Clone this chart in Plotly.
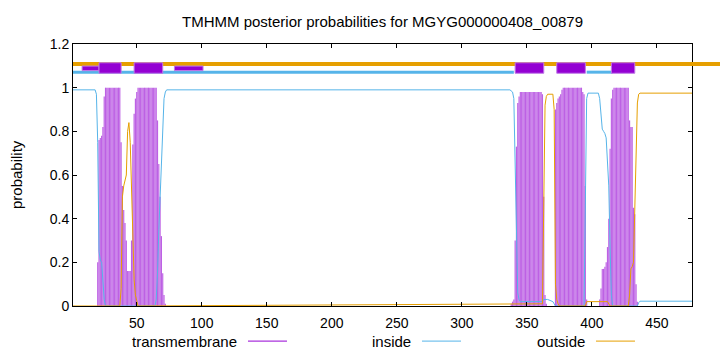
import plotly.graph_objects as go

# ---------------- data ----------------
title_text = "TMHMM posterior probabilities for MGYG000000408_00879"
seq_len = 477

# transmembrane posterior probability per residue (only non-zero stretches)
tm_seg1_start = 20
tm_seg1 = [0.2, 0.76, 0.77, 0.78, 0.82, 0.96,
           1, 1, 1, 1, 1, 1, 1, 1, 1, 1, 1, 1,
           0.75, 0.55, 0.44, 0.38, 0.3, 0.16, 0.16, 0.16, 0.3, 0.74, 0.88, 0.95, 0.98,
           1, 1, 1, 1, 1, 1, 1, 1, 1, 1, 1, 1, 1, 1, 1,
           0.85, 0.65, 0.5, 0.32, 0.15, 0.05, 0.01]
tm_seg2_start = 338
tm_seg2 = [0.01, 0.02, 0.03, 0.3, 0.73, 0.93, 0.96,
           0.98, 0.98, 0.98, 0.98, 0.98, 0.98, 0.98, 0.98, 0.98, 0.98, 0.98, 0.98, 0.98,
           0.98, 0.98, 0.98, 0.98,
           0.97, 0.5, 0.05, 0.01]
tm_seg3_start = 372
tm_seg3 = [0.9, 0.93, 0.95, 0.96, 0.97, 0.99,
           1, 1, 1, 1, 1, 1, 1, 1, 1, 1, 1, 1, 1, 1, 1,
           0.98, 0.97, 0.55, 0.03]
tm_seg4_start = 406
tm_seg4 = [0.03, 0.08, 0.17, 0.17, 0.18, 0.2, 0.27, 0.4, 0.72, 0.95, 0.99,
           1, 1, 1, 1, 1, 1, 1, 1, 1, 1, 1, 1,
           0.85, 0.82, 0.82, 0.45, 0.42, 0.1, 0.02]

# inside posterior probability (residue, value) readings
inside_res = [1, 18, 19, 20, 21, 22, 23, 24, 25, 26, 64, 65, 66, 67, 68, 69, 70, 71, 72, 73,
              337, 339, 340, 341, 342, 343, 344, 345, 362, 363, 366, 370, 371, 372,
              394, 395, 396, 397, 405, 406, 407, 408, 409, 410, 411, 412, 413, 414, 415, 416,
              435, 436, 437, 477]
inside_val = [0.99, 0.99, 0.97, 0.75, 0.25, 0.21, 0.2, 0.12, 0.03, 0.0, 0.0, 0.03, 0.15, 0.35,
              0.5, 0.68, 0.85, 0.95, 0.98, 0.99,
              0.99, 0.98, 0.95, 0.65, 0.25, 0.06, 0.03, 0.02, 0.02, 0.03, 0.03, 0.02, 0.01, 0.0,
              0.0, 0.42, 0.95, 0.975, 0.975, 0.95, 0.88, 0.81, 0.8, 0.79, 0.77, 0.68, 0.55, 0.27,
              0.05, 0.0,
              0.0, 0.015, 0.022, 0.022]

# outside posterior probability (residue, value) readings
outside_res = [1, 37, 38, 39, 40, 41, 42, 43, 44, 45, 46, 47, 48, 49, 50, 51,
               362, 363, 364, 365, 366, 370, 371, 372, 373, 374, 375,
               395, 396, 412, 413, 414,
               428, 429, 430, 431, 432, 433, 434, 435, 436, 437, 477]
outside_val = [0.0, 0.0, 0.08, 0.5, 0.55, 0.57, 0.6, 0.8, 0.84, 0.75, 0.5, 0.25, 0.12, 0.05, 0.02, 0.0,
               0.01, 0.45, 0.92, 0.96, 0.97, 0.97, 0.9, 0.1, 0.03, 0.01, 0.0,
               0.0, 0.02, 0.02, 0.01, 0.0,
               0.0, 0.05, 0.17, 0.18, 0.2, 0.45, 0.75, 0.93, 0.97, 0.975, 0.975]

# predicted topology (top band)
tm_segments = [(21, 38), (48, 70), (341, 363), (373, 395), (415, 433)]
minor_segments = [(8, 21), (79, 101)]
inside_segments = [(1, 340), (396, 416)]

x_ticks = [50, 100, 150, 200, 250, 300, 350, 400, 450]
y_ticks = [0, 0.2, 0.4, 0.6, 0.8, 1.0, 1.2]
y_tick_text = ["0", "0.2", "0.4", "0.6", "0.8", "1", "1.2"]

# ---------------- styling ----------------
C_TM = "#9400d3"
C_IN = "#56b4e9"
C_OUT = "#e69f00"
FONT = "Liberation Sans, Arial, sans-serif"

tm_x, tm_y = [], []
for start, vals in [(tm_seg1_start, tm_seg1), (tm_seg2_start, tm_seg2),
                    (tm_seg3_start, tm_seg3), (tm_seg4_start, tm_seg4)]:
    for i, v in enumerate(vals):
        tm_x.append(start + i)
        tm_y.append(v)

fig = go.Figure()
fig.add_trace(go.Bar(x=tm_x, y=tm_y, width=0.9,
                     marker=dict(color="rgba(148,0,211,0.62)", line=dict(width=0)),
                     showlegend=False, hoverinfo="x+y"))
fig.add_trace(go.Scatter(x=inside_res, y=inside_val, mode="lines",
                         line=dict(color=C_IN, width=1), showlegend=False))
fig.add_trace(go.Scatter(x=outside_res, y=outside_val, mode="lines",
                         line=dict(color=C_OUT, width=1), showlegend=False))

shapes = []
y_out_band = 1.108
y_in_band = 1.071
# outside band (runs across the whole width, past the right border)
shapes.append(dict(type="line", xref="paper", yref="y", x0=0, x1=1.06,
                   y0=y_out_band, y1=y_out_band, line=dict(color=C_OUT, width=4), layer="above"))
for a, b in inside_segments:
    shapes.append(dict(type="line", xref="x", yref="y", x0=a, x1=b,
                       y0=y_in_band, y1=y_in_band, line=dict(color=C_IN, width=3), layer="above"))
for a, b in minor_segments:
    shapes.append(dict(type="rect", xref="x", yref="y", x0=a, x1=b, y0=1.078, y1=1.099,
                       fillcolor=C_TM, line=dict(color="#c07ae6", width=1), layer="above"))
for a, b in tm_segments:
    shapes.append(dict(type="rect", xref="x", yref="y", x0=a, x1=b, y0=1.066, y1=1.114,
                       fillcolor=C_TM, line=dict(color="#c07ae6", width=1), layer="above"))

# legend keys (gnuplot style: text then line)
leg_y = -0.134
legend_items = [("transmembrane", C_TM, 0.2682, 0.2827, 0.3457),
                ("inside", C_IN, 0.5493, 0.5638, 0.6268),
                ("outside", C_OUT, 0.8304, 0.8449, 0.9079)]
annotations = []
for txt, col, xt, xl0, xl1 in legend_items:
    annotations.append(dict(text=txt, xref="paper", yref="paper", x=xt, y=leg_y,
                            xanchor="right", yanchor="middle", showarrow=False,
                            font=dict(size=15, color="black", family=FONT)))
    shapes.append(dict(type="line", xref="paper", yref="paper", x0=xl0, x1=xl1,
                       y0=leg_y, y1=leg_y, line=dict(color=col, width=1)))

annotations.append(dict(text="probability", xref="paper", yref="paper", x=-0.092, y=0.5,
                        textangle=-90, xanchor="center", yanchor="middle", showarrow=False,
                        font=dict(size=15, color="black", family=FONT)))

fig.update_layout(
    width=720, height=352,
    margin=dict(l=73, r=28, t=44, b=46, pad=0),
    paper_bgcolor="white", plot_bgcolor="white",
    bargap=0.1,
    title=dict(text=title_text, x=0.5, xref="paper", xanchor="center",
               y=1 - 22 / 352, yref="container", yanchor="middle",
               font=dict(size=15, color="black", family=FONT)),
    font=dict(family=FONT, size=14, color="black"),
    shapes=shapes, annotations=annotations,
    showlegend=False,
)
fig.update_xaxes(range=[1, seq_len], tickvals=x_ticks, ticks="inside", ticklen=4,
                 tickcolor="black", showline=True, linecolor="black", linewidth=1,
                 mirror="ticks", showgrid=False, zeroline=False, ticklabelstandoff=4,
                 tickfont=dict(size=14, color="black", family=FONT))
fig.update_yaxes(range=[0, 1.2], tickvals=y_ticks, ticktext=y_tick_text, ticks="inside",
                 ticklen=4, tickcolor="black", showline=True, linecolor="black", linewidth=1,
                 mirror="ticks", showgrid=False, zeroline=False,
                 tickfont=dict(size=14, color="black", family=FONT))

fig.write_html("out.html")
